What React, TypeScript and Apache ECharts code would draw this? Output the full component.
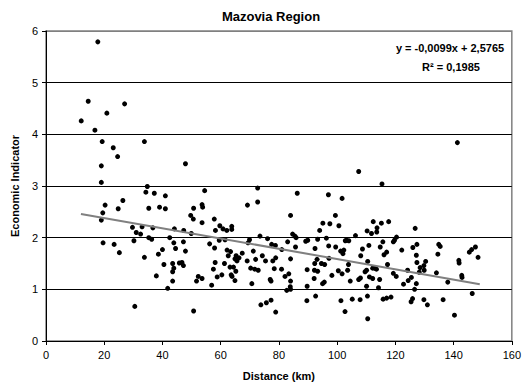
import React, { useEffect, useRef } from "react";
import * as echarts from "echarts";

const distanceKm: number[] = [
  17.8, 14.5, 27.0, 20.9, 12.1, 16.8, 19.3, 33.8, 23.1, 24.6, 19.0, 47.9,
  19.0, 34.8, 34.3, 37.2, 41.0, 26.4, 20.3, 24.8, 35.3, 39.0, 41.0, 50.7, 19.5, 49.7, 50.6, 19.0, 29.7, 33.0, 36.7, 44.1, 47.3, 31.0, 32.5, 49.9, 35.3, 36.3, 42.5, 30.2, 43.9, 47.2, 19.6, 23.4, 44.5, 40.0, 47.9, 25.2, 38.6, 33.8, 43.5, 45.8, 46.7, 47.2, 40.5, 43.9, 43.5, 37.9, 43.5, 52.3, 51.7, 41.8, 30.5, 50.7,
  72.7, 54.5, 86.3, 97.0, 101.7, 72.7, 69.2, 53.6, 53.8, 53.6, 57.8, 84.0, 99.4, 95.1, 97.5, 100.6, 59.7, 63.8, 60.8, 58.2, 62.1, 63.8, 94.0, 84.7, 85.5, 85.9, 73.5, 69.9, 76.1, 59.5, 61.5, 89.2, 89.9, 93.3, 96.3, 102.8, 83.0, 56.2, 69.4, 77.5, 78.8, 97.1, 99.5, 57.9, 85.7, 92.4, 62.2, 63.4, 67.4, 71.2, 81.0, 101.2, 102.3, 102.0, 65.3, 66.3, 64.9, 62.6, 74.3, 78.9, 84.0, 97.2, 72.0, 75.4, 77.9, 69.1, 65.6, 93.1, 58.1, 61.3, 92.3, 94.6, 95.7, 63.2, 64.4, 57.5, 65.2, 70.3, 71.7, 72.9, 78.4, 80.9, 89.7, 92.2, 93.3, 100.4, 103.6, 83.4, 63.6, 60.4, 58.8, 53.6, 63.9, 64.9, 77.0, 77.3, 82.1, 84.0, 92.1, 95.6, 98.2, 101.7, 70.7, 95.0, 56.9, 83.9, 89.7, 82.7, 84.0, 92.6, 89.6, 77.3, 75.7, 73.8, 101.3, 78.9, 102.7,
  107.4, 115.4, 112.4, 115.2, 117.7, 113.7, 110.3, 111.8, 113.6, 126.8, 106.3, 103.2, 104.0, 120.4, 119.7, 119.3, 115.7, 110.9, 114.8, 127.4, 126.0, 134.9, 135.4, 147.5, 146.2, 145.4, 108.7, 117.0, 116.1, 122.2, 134.6, 127.2, 148.4, 108.1, 141.8, 141.9, 103.9, 110.5, 117.3, 127.4, 130.4, 129.8, 128.5, 112.9, 112.2, 113.5, 110.1, 109.6, 124.2, 129.9, 128.2, 134.1, 119.3, 120.3, 111.1, 112.2, 107.4, 108.0, 114.6, 104.5, 125.5, 124.4, 127.2, 122.8, 142.8, 142.9, 138.0, 110.1, 114.2, 126.6, 146.4, 110.4, 115.8, 117.0, 118.5, 125.4, 125.9, 129.8, 131.0, 136.4, 105.2, 107.9, 140.3, 110.5,
  141.3,
];

const indicator: number[] = [
  5.79, 4.64, 4.59, 4.41, 4.26, 4.08, 3.86, 3.86, 3.74, 3.57, 3.39, 3.43,
  3.07, 2.99, 2.88, 2.86, 2.81, 2.72, 2.63, 2.56, 2.57, 2.59, 2.56, 2.57, 2.48, 2.43, 2.36, 2.34, 2.20, 2.21, 2.19, 2.17, 2.14, 2.10, 2.07, 2.08, 2.00, 1.97, 2.00, 1.94, 1.90, 1.92, 1.90, 1.87, 1.79, 1.77, 1.74, 1.71, 1.68, 1.62, 1.50, 1.51, 1.52, 1.46, 1.48, 1.41, 1.34, 1.26, 1.16, 1.25, 1.16, 1.02, 0.67, 0.58,
  2.96, 2.91, 2.86, 2.83, 2.76, 2.69, 2.63, 2.64, 2.59, 2.29, 2.36, 2.43, 2.43, 2.28, 2.27, 2.23, 2.23, 2.22, 2.17, 2.14, 2.14, 2.16, 2.14, 2.07, 2.03, 2.00, 2.03, 1.96, 1.98, 1.95, 1.96, 1.93, 1.95, 1.97, 1.99, 1.94, 1.92, 1.88, 1.90, 1.87, 1.85, 1.84, 1.82, 1.80, 1.82, 1.79, 1.76, 1.73, 1.70, 1.74, 1.77, 1.74, 1.76, 1.69, 1.65, 1.61, 1.59, 1.65, 1.65, 1.61, 1.59, 1.60, 1.58, 1.55, 1.55, 1.55, 1.55, 1.58, 1.52, 1.50, 1.50, 1.50, 1.48, 1.43, 1.43, 1.39, 1.35, 1.41, 1.39, 1.37, 1.40, 1.39, 1.38, 1.37, 1.35, 1.36, 1.37, 1.30, 1.28, 1.28, 1.24, 1.21, 1.25, 1.17, 1.19, 1.16, 1.25, 1.16, 1.21, 1.14, 1.27, 1.30, 1.11, 1.11, 1.08, 1.05, 1.06, 0.98, 1.00, 0.87, 0.78, 0.79, 0.74, 0.70, 0.78, 0.56, 0.57,
  3.28, 3.04, 2.31, 2.28, 2.31, 2.19, 2.13, 2.08, 2.11, 2.18, 2.04, 1.95, 1.94, 2.01, 1.95, 1.92, 1.92, 1.85, 1.82, 1.87, 1.81, 1.87, 1.83, 1.82, 1.77, 1.72, 1.78, 1.72, 1.67, 1.76, 1.68, 1.66, 1.62, 1.65, 1.56, 1.51, 1.48, 1.54, 1.48, 1.52, 1.54, 1.46, 1.42, 1.41, 1.41, 1.39, 1.37, 1.34, 1.37, 1.37, 1.33, 1.32, 1.31, 1.25, 1.24, 1.21, 1.19, 1.22, 1.19, 1.16, 1.23, 1.17, 1.11, 1.10, 1.27, 1.23, 1.14, 1.06, 1.03, 1.00, 0.92, 0.87, 0.81, 0.83, 0.85, 0.76, 0.82, 0.80, 0.70, 0.80, 0.81, 0.80, 0.50, 0.43,
  3.84,
];

// Trend line end points (from y = -0,0099x + 2,5765)
const trendX: number[] = [12, 149];
const trendY: number[] = [2.46, 1.10];

const xTicks: number[] = [0, 20, 40, 60, 80, 100, 120, 140, 160];
const yTicks: number[] = [0, 1, 2, 3, 4, 5, 6];

const titleText = "Mazovia Region";
const equationText = "y = -0,0099x + 2,5765";
const r2Text = "R² = 0,1985";
const xName = "Distance (km)";
const yName = "Economic Indicator";

const FONT = "'Liberation Sans', Arial, sans-serif";

export default function App() {
  const ref = useRef<HTMLDivElement>(null);

  useEffect(() => {
    if (!ref.current) return;
    const chart = echarts.init(ref.current, undefined, { renderer: "svg" });
    const points = distanceKm.map((x, i) => [x, indicator[i]]);
    const trend = trendX.map((x, i) => [x, trendY[i]]);
    chart.setOption({
      animation: false,
      backgroundColor: "#ffffff",
      textStyle: { fontFamily: FONT },
      title: {
        text: titleText,
        left: 266,
        top: 5,
        textAlign: "center",
        textStyle: { fontFamily: FONT, fontSize: 13, fontWeight: "bold", color: "#000" },
      },
      grid: {
        left: 46,
        right: 10,
        top: 31,
        bottom: 46,
        show: true,
        borderColor: "#808080",
        borderWidth: 1.5,
        backgroundColor: "transparent",
      },
      xAxis: {
        type: "value",
        min: xTicks[0],
        max: xTicks[xTicks.length - 1],
        interval: 20,
        name: xName,
        nameLocation: "middle",
        nameGap: 29,
        nameTextStyle: { fontFamily: FONT, fontSize: 11, fontWeight: "bold", color: "#000" },
        axisLine: { show: true, onZero: false, lineStyle: { color: "#000", width: 1 } },
        axisTick: { show: true, inside: false, length: 4, lineStyle: { color: "#000" } },
        axisLabel: { fontFamily: FONT, fontSize: 11, color: "#000", margin: 8 },
        splitLine: { show: false },
      },
      yAxis: {
        type: "value",
        min: yTicks[0],
        max: yTicks[yTicks.length - 1],
        interval: 1,
        name: yName,
        nameLocation: "middle",
        nameGap: 26,
        nameTextStyle: { fontFamily: FONT, fontSize: 11, fontWeight: "bold", color: "#000" },
        axisLine: { show: true, onZero: false, lineStyle: { color: "#000", width: 1 } },
        axisTick: { show: true, inside: false, length: 4, lineStyle: { color: "#000" } },
        axisLabel: { fontFamily: FONT, fontSize: 11, color: "#000", margin: 8 },
        splitLine: {
          show: true,
          lineStyle: {
            color: ["#000", "#000", "#000", "#000", "#000", "#000", "#808080"],
            width: 1,
          },
        },
      },
      series: [
        {
          type: "scatter",
          data: points,
          symbol: "circle",
          symbolSize: 5,
          itemStyle: { color: "#000", opacity: 1 },
          z: 3,
        },
        {
          type: "line",
          data: trend,
          symbol: "none",
          lineStyle: { color: "#808080", width: 2 },
          z: 4,
        },
      ],
      graphic: [
        {
          type: "text",
          x: 450,
          y: 48,
          style: {
            text: equationText,
            fontFamily: FONT,
            fontSize: 11,
            fontWeight: "bold",
            fill: "#000",
            textAlign: "center",
            textVerticalAlign: "middle",
          },
        },
        {
          type: "text",
          x: 451,
          y: 67,
          style: {
            text: r2Text,
            fontFamily: FONT,
            fontSize: 11,
            fontWeight: "bold",
            fill: "#000",
            textAlign: "center",
            textVerticalAlign: "middle",
          },
        },
      ],
    });
    return () => chart.dispose();
  }, []);

  return (
    <div
      ref={ref}
      style={{ position: "fixed", left: 0, top: 0, width: 524, height: 387 }}
    />
  );
}
